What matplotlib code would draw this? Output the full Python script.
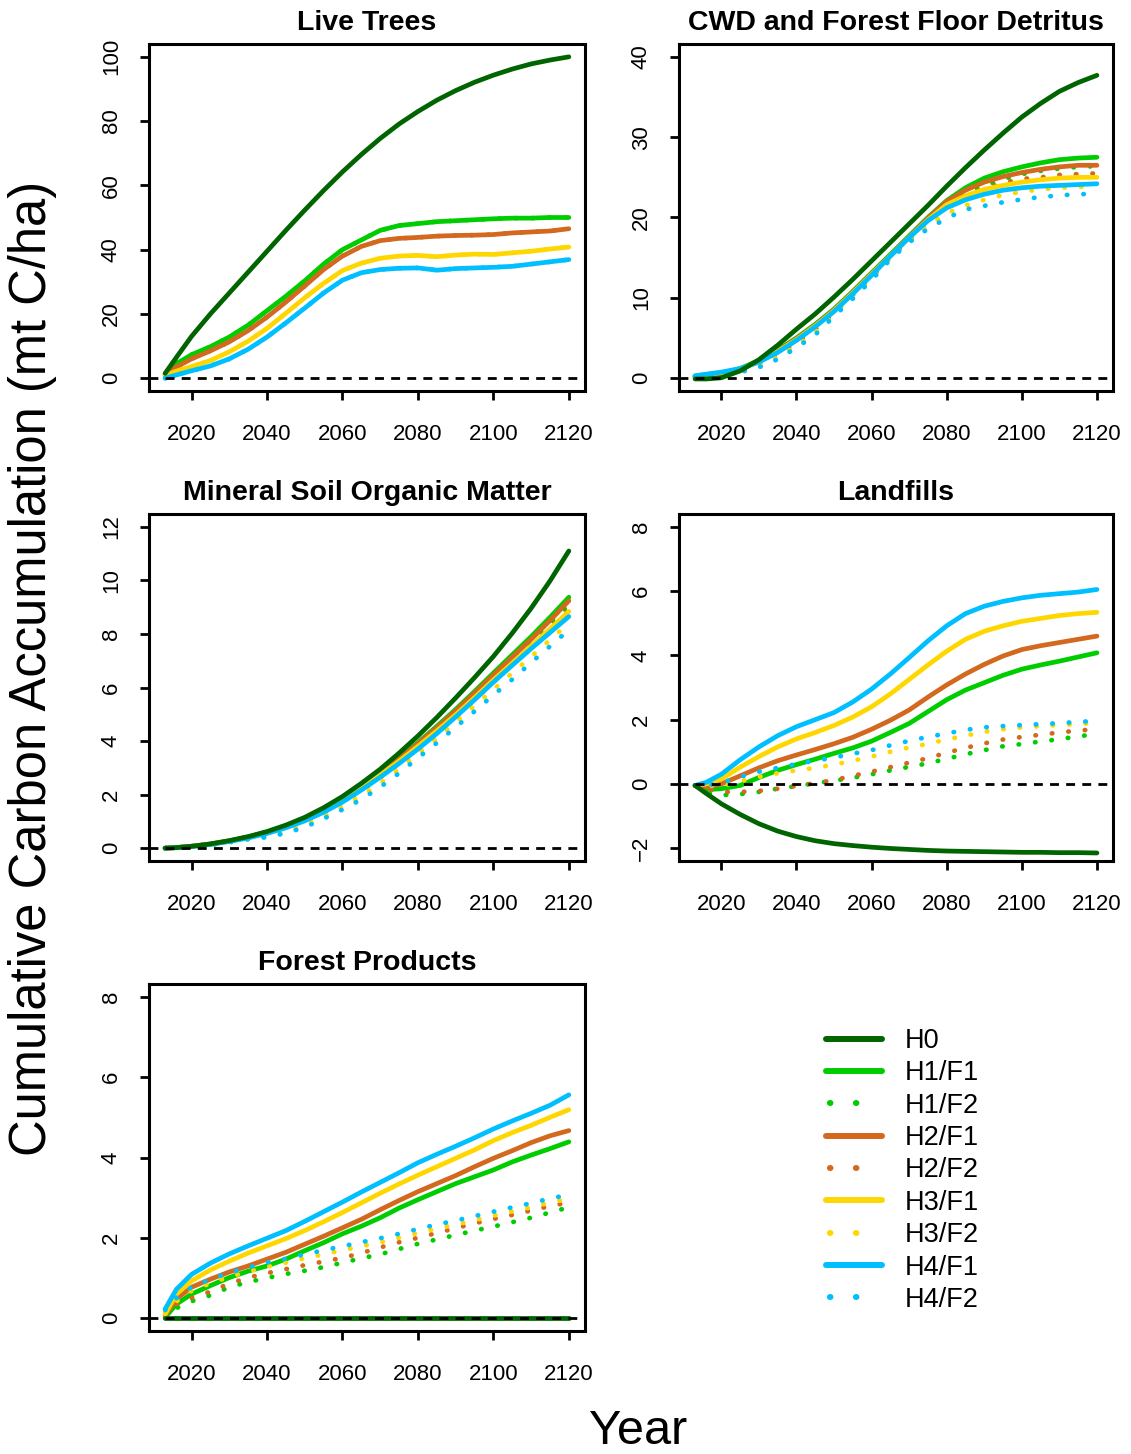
import numpy as np
import matplotlib
matplotlib.use('Agg')
import matplotlib.pyplot as plt
from matplotlib.lines import Line2D

plt.rcParams['font.family'] = ['Liberation Sans', 'DejaVu Sans']

years = [2013, 2016, 2020, 2025, 2030, 2035, 2040, 2045, 2050, 2055, 2060, 2065,
         2070, 2075, 2080, 2085, 2090, 2095, 2100, 2105, 2110, 2115, 2120]

labels = ['H0', 'H1/F1', 'H1/F2', 'H2/F1', 'H2/F2', 'H3/F1', 'H3/F2', 'H4/F1', 'H4/F2']
colors = ['#006400', '#00CD00', '#00CD00', '#D2691E', '#D2691E',
          '#FFD700', '#FFD700', '#00BFFF', '#00BFFF']
dotted = [False, False, True, False, True, False, True, False, True]

# Live Trees
live_h0 = [1.5, 6.5, 13.0, 20.0, 26.5, 33.0, 39.5, 46.0, 52.3, 58.4, 64.2, 69.6,
           74.6, 79.1, 83.0, 86.5, 89.5, 92.1, 94.3, 96.2, 97.8, 99.0, 100.0]
live_h1f1 = [1.3, 4.5, 7.3, 9.8, 12.8, 16.5, 21.0, 25.5, 30.3, 35.5, 40.0, 43.0,
             46.0, 47.5, 48.1, 48.7, 49.0, 49.3, 49.6, 49.8, 49.8, 50.0, 50.0]
live_h2f1 = [1.0, 3.5, 6.0, 8.5, 11.3, 14.8, 19.0, 23.7, 28.7, 33.8, 38.0, 41.0,
             42.8, 43.5, 43.8, 44.2, 44.4, 44.5, 44.7, 45.2, 45.5, 45.8, 46.5]
live_h3f1 = [0.8, 2.2, 3.6, 5.5, 8.2, 11.5, 15.5, 20.2, 25.0, 29.5, 33.5, 35.8,
             37.3, 38.0, 38.2, 37.8, 38.3, 38.6, 38.5, 39.0, 39.5, 40.2, 40.8]
live_h4f1 = [0.0, 1.0, 2.3, 3.8, 6.0, 9.0, 12.8, 17.2, 21.8, 26.5, 30.5, 32.8,
             33.8, 34.2, 34.3, 33.6, 34.1, 34.3, 34.5, 34.8, 35.5, 36.2, 36.9]
# F2 runs give the same live tree carbon
live_h1f2 = live_h1f1
live_h2f2 = live_h2f1
live_h3f2 = live_h3f1
live_h4f2 = live_h4f1

# CWD and Forest Floor Detritus
cwd_h0 = [-0.1, -0.1, 0.05, 0.9, 2.3, 4.1, 6.1, 8.0, 10.1, 12.3, 14.6, 16.9,
          19.2, 21.5, 23.9, 26.2, 28.4, 30.5, 32.5, 34.2, 35.7, 36.8, 37.7]
cwd_h1f1 = [0.2, 0.4, 0.6, 1.2, 2.2, 3.5, 5.0, 6.7, 8.6, 10.8, 13.1, 15.4,
            17.7, 20.0, 22.1, 23.7, 24.9, 25.7, 26.3, 26.8, 27.2, 27.4, 27.5]
cwd_h1f2 = [0.2, 0.35, 0.55, 1.0, 1.8, 3.0, 4.4, 6.1, 8.1, 10.3, 12.6, 15.0,
            17.3, 19.6, 21.6, 22.9, 23.9, 24.8, 25.4, 25.8, 26.1, 26.3, 26.4]
cwd_h2f1 = [0.2, 0.4, 0.6, 1.15, 2.1, 3.4, 4.9, 6.6, 8.5, 10.7, 13.0, 15.3,
            17.6, 19.9, 22.0, 23.4, 24.4, 25.1, 25.6, 26.0, 26.3, 26.5, 26.5]
cwd_h2f2 = [0.2, 0.35, 0.55, 1.0, 1.8, 3.0, 4.4, 6.1, 8.1, 10.3, 12.6, 15.0,
            17.3, 19.5, 21.3, 22.6, 23.6, 24.3, 24.8, 25.0, 25.3, 25.4, 25.5]
cwd_h3f1 = [0.25, 0.45, 0.65, 1.15, 2.05, 3.3, 4.8, 6.5, 8.4, 10.6, 12.9, 15.2,
            17.5, 19.7, 21.6, 22.7, 23.5, 24.0, 24.4, 24.7, 24.9, 25.0, 25.0]
cwd_h3f2 = [0.2, 0.35, 0.5, 0.85, 1.5, 2.6, 4.0, 5.7, 7.9, 10.1, 12.4, 14.9,
            17.1, 19.0, 20.5, 21.5, 22.2, 22.8, 23.2, 23.5, 23.7, 23.8, 23.9]
cwd_h4f1 = [0.3, 0.5, 0.75, 1.2, 2.0, 3.2, 4.7, 6.4, 8.3, 10.5, 12.8, 15.2,
            17.5, 19.6, 21.2, 22.2, 22.9, 23.4, 23.7, 23.9, 24.0, 24.1, 24.2]
cwd_h4f2 = [0.2, 0.35, 0.5, 0.75, 1.35, 2.35, 3.8, 5.4, 7.7, 9.9, 12.2, 14.8,
            16.9, 18.6, 19.9, 21.0, 21.45, 21.9, 22.25, 22.55, 22.75, 22.9, 22.95]

# Mineral Soil Organic Matter
soil_h0 = [0.0, 0.02, 0.07, 0.16, 0.28, 0.43, 0.62, 0.86, 1.15, 1.51, 1.93, 2.42,
           2.95, 3.55, 4.19, 4.88, 5.61, 6.37, 7.16, 8.03, 8.96, 9.98, 11.1]
soil_h1f1 = [0.0, 0.02, 0.07, 0.15, 0.27, 0.42, 0.6, 0.83, 1.1, 1.45, 1.86, 2.32,
             2.83, 3.36, 3.94, 4.55, 5.18, 5.85, 6.54, 7.22, 7.9, 8.62, 9.37]
soil_h1f2 = [0.0, 0.02, 0.07, 0.15, 0.26, 0.4, 0.57, 0.79, 1.05, 1.38, 1.77, 2.22,
             2.72, 3.24, 3.81, 4.41, 5.03, 5.68, 6.35, 7.02, 7.69, 8.38, 9.1]
soil_h2f1 = [0.0, 0.02, 0.07, 0.15, 0.27, 0.41, 0.59, 0.82, 1.09, 1.43, 1.84, 2.3,
             2.8, 3.33, 3.9, 4.5, 5.13, 5.79, 6.47, 7.13, 7.8, 8.5, 9.24]
soil_h2f2 = [0.0, 0.02, 0.07, 0.14, 0.25, 0.39, 0.55, 0.76, 1.01, 1.33, 1.71, 2.15,
             2.64, 3.15, 3.7, 4.29, 4.9, 5.54, 6.2, 6.86, 7.52, 8.2, 8.9]
soil_h3f1 = [0.0, 0.02, 0.07, 0.15, 0.26, 0.4, 0.57, 0.8, 1.06, 1.4, 1.8, 2.25,
             2.74, 3.25, 3.8, 4.38, 4.98, 5.62, 6.28, 6.91, 7.55, 8.19, 8.84]
soil_h3f2 = [0.0, 0.01, 0.05, 0.12, 0.22, 0.34, 0.45, 0.62, 0.86, 1.18, 1.55, 1.95,
             2.42, 2.95, 3.52, 4.1, 4.7, 5.31, 5.93, 6.54, 7.15, 7.78, 8.4]
soil_h4f1 = [0.0, 0.02, 0.06, 0.14, 0.25, 0.38, 0.55, 0.76, 1.02, 1.34, 1.72, 2.17,
             2.65, 3.16, 3.7, 4.28, 4.9, 5.54, 6.2, 6.83, 7.45, 8.05, 8.65]
soil_h4f2 = [0.0, 0.01, 0.05, 0.12, 0.22, 0.33, 0.41, 0.56, 0.78, 1.1, 1.44, 1.82,
             2.28, 2.8, 3.37, 3.93, 4.52, 5.11, 5.72, 6.3, 6.93, 7.54, 8.15]

# Landfills
land_h0 = [-0.05, -0.3, -0.62, -0.95, -1.24, -1.47, -1.64, -1.77, -1.86, -1.92, -1.97, -2.01,
           -2.04, -2.07, -2.09, -2.1, -2.11, -2.12, -2.13, -2.13, -2.14, -2.14, -2.15]
land_h1f1 = [-0.05, -0.18, -0.15, -0.05, 0.2, 0.42, 0.6, 0.77, 0.95, 1.12, 1.33, 1.6,
             1.88, 2.25, 2.62, 2.92, 3.15, 3.38, 3.57, 3.7, 3.82, 3.95, 4.08]
land_h1f2 = [-0.05, -0.28, -0.35, -0.32, -0.25, -0.15, -0.07, 0.02, 0.1, 0.19, 0.3, 0.42,
             0.53, 0.64, 0.78, 0.92, 1.05, 1.17, 1.24, 1.32, 1.39, 1.48, 1.55]
land_h2f1 = [-0.05, -0.1, 0.0, 0.25, 0.5, 0.72, 0.9, 1.07, 1.25, 1.45, 1.7, 1.98,
             2.3, 2.7, 3.08, 3.42, 3.72, 3.98, 4.18, 4.3, 4.4, 4.5, 4.6]
land_h2f2 = [-0.05, -0.15, -0.25, -0.25, -0.22, -0.15, -0.06, 0.02, 0.12, 0.25, 0.38, 0.52,
             0.66, 0.8, 0.97, 1.12, 1.26, 1.38, 1.46, 1.53, 1.6, 1.66, 1.7]
land_h3f1 = [-0.05, 0.0, 0.15, 0.52, 0.85, 1.15, 1.4, 1.6, 1.82, 2.08, 2.4, 2.8,
             3.25, 3.7, 4.13, 4.5, 4.75, 4.92, 5.06, 5.15, 5.24, 5.3, 5.34]
land_h3f2 = [-0.05, -0.05, -0.07, 0.08, 0.22, 0.33, 0.42, 0.5, 0.6, 0.72, 0.85, 1.0,
             1.13, 1.25, 1.38, 1.5, 1.62, 1.7, 1.76, 1.8, 1.83, 1.86, 1.9]
land_h4f1 = [-0.05, 0.05, 0.3, 0.75, 1.15, 1.5, 1.78, 2.0, 2.22, 2.55, 2.95, 3.42,
             3.93, 4.45, 4.92, 5.3, 5.53, 5.68, 5.79, 5.87, 5.92, 5.97, 6.05]
land_h4f2 = [-0.05, -0.05, 0.03, 0.22, 0.38, 0.5, 0.62, 0.72, 0.82, 0.94, 1.05, 1.2,
             1.34, 1.46, 1.57, 1.68, 1.76, 1.8, 1.83, 1.86, 1.89, 1.93, 1.96]

# Forest Products
prod_h0 = [0.0, 0.0, 0.0, 0.0, 0.0, 0.0, 0.0, 0.0, 0.0, 0.0, 0.0, 0.0,
           0.0, 0.0, 0.0, 0.0, 0.0, 0.0, 0.0, 0.0, 0.0, 0.0, 0.0]
prod_h1f1 = [0.02, 0.35, 0.6, 0.81, 1.01, 1.17, 1.3, 1.47, 1.68, 1.88, 2.1, 2.29,
             2.5, 2.74, 2.95, 3.15, 3.35, 3.52, 3.69, 3.89, 4.06, 4.22, 4.39]
prod_h1f2 = [0.0, 0.25, 0.42, 0.57, 0.77, 0.9, 1.0, 1.1, 1.18, 1.27, 1.38, 1.49,
             1.59, 1.72, 1.85, 1.96, 2.07, 2.18, 2.28, 2.39, 2.5, 2.63, 2.76]
prod_h2f1 = [0.07, 0.48, 0.77, 0.97, 1.15, 1.3, 1.47, 1.64, 1.84, 2.04, 2.25, 2.46,
             2.7, 2.93, 3.15, 3.35, 3.55, 3.77, 3.98, 4.17, 4.37, 4.54, 4.67]
prod_h2f2 = [0.05, 0.35, 0.5, 0.66, 0.86, 1.01, 1.12, 1.22, 1.32, 1.41, 1.5, 1.62,
             1.76, 1.89, 2.0, 2.12, 2.24, 2.36, 2.47, 2.57, 2.68, 2.79, 2.88]
prod_h3f1 = [0.1, 0.6, 0.93, 1.2, 1.42, 1.62, 1.8, 1.98, 2.18, 2.4, 2.63, 2.87,
             3.11, 3.34, 3.56, 3.77, 3.98, 4.19, 4.42, 4.62, 4.8, 5.0, 5.19]
prod_h3f2 = [0.15, 0.42, 0.68, 0.87, 1.03, 1.16, 1.28, 1.38, 1.49, 1.59, 1.69, 1.79,
             1.89, 2.0, 2.12, 2.23, 2.33, 2.44, 2.55, 2.66, 2.76, 2.88, 2.97]
prod_h4f1 = [0.23, 0.72, 1.09, 1.37, 1.6, 1.8, 1.99, 2.18, 2.41, 2.65, 2.89, 3.14,
             3.38, 3.62, 3.87, 4.08, 4.28, 4.49, 4.71, 4.91, 5.1, 5.3, 5.56]
prod_h4f2 = [0.2, 0.5, 0.77, 0.97, 1.13, 1.26, 1.38, 1.48, 1.59, 1.69, 1.79, 1.89,
             1.99, 2.1, 2.22, 2.33, 2.43, 2.54, 2.65, 2.76, 2.86, 2.98, 3.07]

live = [live_h0, live_h1f1, live_h1f2, live_h2f1, live_h2f2, live_h3f1, live_h3f2, live_h4f1, live_h4f2]
cwd = [cwd_h0, cwd_h1f1, cwd_h1f2, cwd_h2f1, cwd_h2f2, cwd_h3f1, cwd_h3f2, cwd_h4f1, cwd_h4f2]
soil = [soil_h0, soil_h1f1, soil_h1f2, soil_h2f1, soil_h2f2, soil_h3f1, soil_h3f2, soil_h4f1, soil_h4f2]
land = [land_h0, land_h1f1, land_h1f2, land_h2f1, land_h2f2, land_h3f1, land_h3f2, land_h4f1, land_h4f2]
prod = [prod_h0, prod_h1f1, prod_h1f2, prod_h2f1, prod_h2f2, prod_h3f1, prod_h3f2, prod_h4f1, prod_h4f2]

W, H = 1131., 1454.
fig = plt.figure(figsize=(W / 100, H / 100), dpi=100)


def box(l, t, r, b):
    # pixel box -> figure fraction
    return [l / W, 1 - b / H, (r - l) / W, (b - t) / H]


panels = [
    ('Live Trees', box(149, 44, 585, 391), (0, 100), [0, 20, 40, 60, 80, 100], live),
    ('CWD and Forest Floor Detritus', box(679, 44, 1113, 391), (0, 40), [0, 10, 20, 30, 40], cwd),
    ('Mineral Soil Organic Matter', box(149, 514, 585, 861), (0, 12), [0, 2, 4, 6, 8, 10, 12], soil),
    ('Landfills', box(679, 514, 1113, 861), (-2, 8), [-2, 0, 2, 4, 6, 8], land),
    ('Forest Products', box(149, 984, 585, 1331), (0, 8), [0, 2, 4, 6, 8], prod),
]

LW = 3.4
dot_ls = (0, (0.1, 3.4))

for title, pos, (ylo, yhi), yticks, data in panels:
    ax = fig.add_axes(pos)
    # draw H1..H4 in order, H0 last
    for i in list(range(1, 9)) + [0]:
        if dotted[i]:
            ax.plot(years, data[i], color=colors[i], lw=LW, ls=dot_ls,
                    dash_capstyle='round', solid_capstyle='round')
        else:
            ax.plot(years, data[i], color=colors[i], lw=LW, solid_capstyle='round',
                    solid_joinstyle='round')
    ax.axhline(0, color='k', lw=2, ls=(0, (3.2, 2.6)), zorder=5)

    ext = 0.04 * (yhi - ylo)
    ax.set_ylim(ylo - ext, yhi + ext)
    ax.set_xlim(2013 - 0.04 * 107, 2120 + 0.04 * 107)
    ax.set_xticks([2020, 2040, 2060, 2080, 2100, 2120])
    ax.set_yticks(yticks)
    ax.set_yticklabels([str(v) if v >= 0 else '\u2212' + str(-v) for v in yticks])
    ax.tick_params(direction='out', length=6.5, width=2, labelsize=16, color='k')
    ax.tick_params(axis='x', pad=17)
    ax.tick_params(axis='y', pad=13, labelrotation=90)
    for lab in ax.get_yticklabels():
        lab.set_va('center')
    for sp in ax.spines.values():
        sp.set_linewidth(2.2)
    ax.set_title(title, fontsize=20.5, fontweight='bold', pad=10)

handles = []
for i in range(9):
    if dotted[i]:
        # two dots per legend sample
        handles.append(Line2D([], [], color=colors[i], lw=4.3,
                              ls=(23.8, (0.1, 4.25, 0.1, 20.0)), dash_capstyle='round'))
    else:
        handles.append(Line2D([], [], color=colors[i], lw=4.3, solid_capstyle='round'))
fig.legend(handles, labels, loc='upper left', bbox_to_anchor=(826 / W, 1 - 1028 / H),
           frameon=False, fontsize=19.5, handlelength=2.05, handletextpad=0.85,
           labelspacing=0.235, borderaxespad=0, borderpad=0)

fig.text(33 / W, 1 - 668 / H, 'Cumulative Carbon Accumulation (mt C/ha)',
         rotation=90, fontsize=36.5, ha='center', va='center')
fig.text(638 / W, 1 - 1432 / H, 'Year', fontsize=35, ha='center', va='center')

fig.savefig('out.png', dpi=100)
